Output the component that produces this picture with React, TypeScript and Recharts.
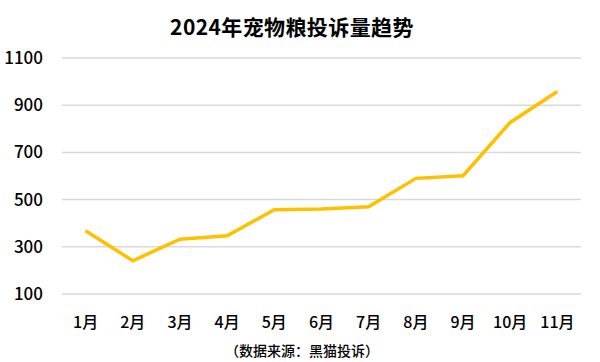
import { CartesianGrid, Line, LineChart, XAxis, YAxis } from "recharts";

const months = ["1月", "2月", "3月", "4月", "5月", "6月", "7月", "8月", "9月", "10月", "11月"];
const complaints = [368, 241, 332, 347, 457, 460, 470, 590, 601, 827, 958];
const yTicks = [100, 300, 500, 700, 900, 1100];

const title = "2024年宠物粮投诉量趋势";
const source = "（数据来源：黑猫投诉）";

const FONT = '"Noto Sans CJK SC", "Noto Sans", sans-serif';

export default function App() {
  const data = months.map((m, i) => ({ month: m, value: complaints[i] }));

  return (
    <div
      style={{
        position: "absolute",
        left: 0,
        top: 0,
        width: 600,
        height: 362,
        background: "#fff",
        fontFamily: FONT,
      }}
    >
      <div
        style={{
          position: "absolute",
          left: 0,
          width: 584,
          top: 11,
          textAlign: "center",
          fontSize: 21,
          fontWeight: 700,
          letterSpacing: 0.4,
          lineHeight: "30px",
          color: "#000",
        }}
      >
        {title}
      </div>
      <LineChart
        width={600}
        height={362}
        data={data}
        margin={{ top: 58, right: 19, bottom: 38, left: 0 }}
      >
        <CartesianGrid vertical={false} stroke="#d9d9d9" strokeWidth={1.5} />
        <XAxis
          dataKey="month"
          scale="band"
          axisLine={false}
          tickLine={false}
          interval={0}
          tickMargin={17}
          height={30}
          tick={{ fontSize: 16, fill: "#000", fontFamily: FONT, fontWeight: 500 }}
        />
        <YAxis
          domain={[100, 1100]}
          ticks={yTicks}
          axisLine={false}
          tickLine={false}
          width={62}
          tickMargin={13}
          tick={{ fontSize: 17, fill: "#000", fontFamily: FONT, fontWeight: 500 }}
        />
        <Line
          type="linear"
          dataKey="value"
          stroke="#ffc000"
          strokeWidth={3.5}
          dot={false}
          activeDot={false}
          isAnimationActive={false}
        />
      </LineChart>
      <div
        style={{
          position: "absolute",
          left: 0,
          width: 604,
          top: 340,
          textAlign: "center",
          fontSize: 14,
          fontWeight: 500,
          lineHeight: "20px",
          color: "#000",
        }}
      >
        {source}
      </div>
    </div>
  );
}
